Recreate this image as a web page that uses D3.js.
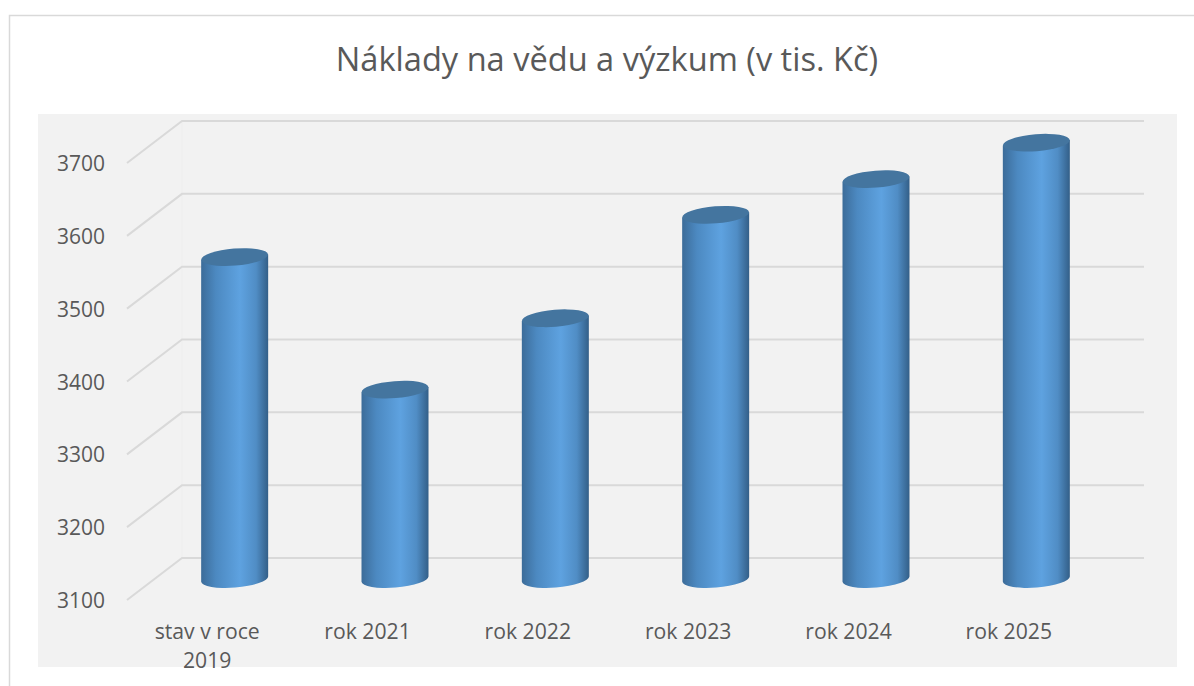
<!DOCTYPE html>
<html>
<head>
<meta charset="utf-8">
<script src="https://cdn.jsdelivr.net/npm/d3@7"></script>
<style>
  html, body { margin: 0; padding: 0; background: #fff; }
  svg { display: block; }
  text { font-family: "Open Sans", sans-serif; fill: #595959; }
</style>
</head>
<body>
<svg id="chart" width="1194" height="686"></svg>
<script>
const categories = ['stav v roce 2019', 'rok 2021', 'rok 2022', 'rok 2023', 'rok 2024', 'rok 2025']
const values = [3542, 3360, 3458, 3600, 3649, 3699]
const yTicks = [3100, 3200, 3300, 3400, 3500, 3600, 3700]
const titleText = 'Náklady na vědu a výzkum (v tis. Kč)'

const svg = d3.select('#chart')

// depth of the fake 3d floor
const depthX = 55
const depthY = 42

const x = d3.scaleBand().domain(categories).range([127, 1089])
const y = d3.scaleLinear().domain([3100, 3700]).range([600, 163])

// outer frame, only the left and top edges are in the crop
svg.append('path')
  .attr('d', 'M9.5,686V15.5H1194')
  .attr('fill', 'none')
  .attr('stroke', '#d9d9d9')
  .attr('stroke-width', 1.5)

svg.append('rect')
  .attr('x', 38).attr('y', 114)
  .attr('width', 1139).attr('height', 553)
  .attr('fill', '#f2f2f2')

svg.append('text')
  .attr('x', 607).attr('y', 71)
  .attr('text-anchor', 'middle')
  .attr('font-size', 32.6)
  .text(titleText)

// back wall edge
svg.append('line')
  .attr('x1', 182).attr('x2', 182)
  .attr('y1', y(3700) - depthY).attr('y2', y(3100) - depthY)
  .attr('stroke', '#eeeeee')

// gridlines run along the side wall then across the back wall
svg.append('g').selectAll('path')
  .data(yTicks)
  .join('path')
  .attr('d', d => `M127,${y(d)}L${127 + depthX},${y(d) - depthY}H1144`)
  .attr('fill', 'none')
  .attr('stroke', '#d9d9d9')
  .attr('stroke-width', 2)

svg.append('g').selectAll('text')
  .data(yTicks)
  .join('text')
  .attr('x', 57)
  .attr('y', d => y(d) + 8)
  .attr('font-size', 21)
  .text(d => d)

// bar shading, dark edges and light middle
const defs = svg.append('defs')
const grad = defs.append('linearGradient').attr('id', 'cyl')
grad.append('stop').attr('offset', '0%').attr('stop-color', '#3c6c99')
grad.append('stop').attr('offset', '22%').attr('stop-color', '#4c89c1')
grad.append('stop').attr('offset', '58%').attr('stop-color', '#5ea2e0')
grad.append('stop').attr('offset', '82%').attr('stop-color', '#508dc5')
grad.append('stop').attr('offset', '100%').attr('stop-color', '#335f88')

const rx = 33.5
const ry = 8.5
const tilt = 0.08 // ellipses lean up to the right
const barCx = d => x(d) + x.bandwidth() / 2 + depthX / 2
const baseY = y(3100) - depthY / 2

const bars = svg.append('g').selectAll('g')
  .data(categories.map((c, i) => ({ c, v: values[i] })))
  .join('g')
  .attr('transform', d => `translate(${barCx(d.c)},0)`)

bars.append('path')
  .attr('d', d => {
    const t = y(d.v) - depthY / 2
    return `M${-rx},${t + rx * tilt}L${rx},${t - rx * tilt}` +
      `L${rx},${baseY - rx * tilt}` +
      `A${rx},${ry} ${-tilt * 57.3} 0 1 ${-rx},${baseY + rx * tilt}Z`
  })
  .attr('fill', 'url(#cyl)')

bars.append('ellipse')
  .attr('rx', rx)
  .attr('ry', ry)
  .attr('transform', d => `translate(0,${y(d.v) - depthY / 2}) rotate(${-tilt * 57.3})`)
  .attr('fill', '#44759f')

// category labels sit at the front of the floor, long ones wrap
svg.append('g').selectAll('text')
  .data(categories)
  .join('text')
  .attr('x', d => x(d) + x.bandwidth() / 2)
  .attr('y', 639)
  .attr('text-anchor', 'middle')
  .attr('font-size', 21.2)
  .each(function(d) {
    const lines = d.length > 10 ? ['stav v roce', '2019'] : [d]
    d3.select(this).selectAll('tspan')
      .data(lines)
      .join('tspan')
      .attr('x', x(d) + x.bandwidth() / 2)
      .attr('dy', (l, i) => i ? 29 : 0)
      .text(l => l)
  })
</script>
</body>
</html>
